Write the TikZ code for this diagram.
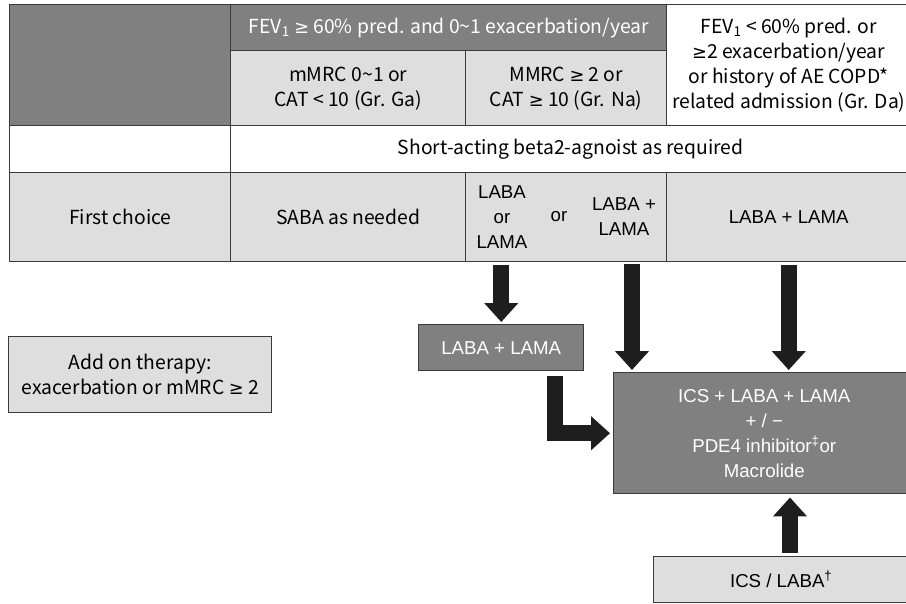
\documentclass[tikz,border=0pt]{standalone}
\usepackage{fontspec}
\setmainfont{Noto Sans CJK KR}
\newfontfamily\arialfont{Liberation Sans}
\newfontfamily\gefont[Scale=0.92]{DejaVu Sans}
\newcommand\gesym{{\gefont ≥}}
\usetikzlibrary{arrows.meta,calc,positioning}
\definecolor{copddark}{HTML}{808080}
\definecolor{copdlight}{HTML}{DEDEDE}
\definecolor{copdline}{HTML}{3A3A3A}
\definecolor{copdarrow}{HTML}{1E1E1E}

\begin{document}
\begin{tikzpicture}[x=0.75pt,y=-0.75pt,
  font=\fontsize{14.5}{18.75}\selectfont,
  cell/.style 2 args={draw=copdline,line width=1.1pt,anchor=north west,inner sep=0pt,align=center,
    minimum width=#1*0.75pt,minimum height=#2*0.75pt},
  dark/.style={fill=copddark,text=white},
  light/.style={fill=copdlight},
  arial/.style={font=\arialfont\fontsize{14}{18.75}\selectfont},
  blockarrow/.style={draw=copdarrow,line width=12pt,line join=miter,
    -{Triangle[width=24.75pt,length=14.25pt]}}]
\useasboundingbox[fill=white] (0,0) rectangle (906,603);
% header rows
\node[cell={221}{121},dark] (corner) at (9,4) {};
\node[cell={436}{46},dark] (fevhigh) at (230,4) {FEV\textsubscript{1} \gesym{} 60\% pred. and 0\textasciitilde1 exacerbation/year};
\node[cell={235}{75},light] (grga) at (230,50) {mMRC 0\textasciitilde1 or\\CAT < 10 (Gr. Ga)};
\node[cell={201}{75},light] (grna) at (465,50) {MMRC \gesym{} 2 or\\CAT \gesym{} 10 (Gr. Na)};
\node[cell={244}{121}] (grda) at (666,4) {FEV\textsubscript{1} < 60\% pred. or\\\gesym2 exacerbation/year\\or history of AE COPD*\\related admission (Gr. Da)};
% reliever row
\node[cell={221}{47}] (blank) at (9,125) {};
\node[cell={680}{47}] (reliever) at (230,125) {Short-acting beta2-agnoist as required};
% first choice row
\node[cell={221}{89},light] (first) at (9,172) {First choice};
\node[cell={235}{89},light] (sabacell) at (230,172) {SABA as needed};
\node[cell={201}{89},light] (mono) at (465,172) {};
\node[cell={244}{89},light,arial] (dual) at (666,172) {LABA + LAMA};
\node[arial,align=center] (monoA) at (502,217) {LABA\\or\\LAMA};
\node[arial] (monoOr) at (559,217) {or};
\node[arial,align=center] (monoB) at (624,217) {LABA +\\LAMA};
% treatment boxes
\node[cell={165}{46},dark,arial] (lama) at (418,324) {LABA + LAMA};
\node[cell={301}{121},dark,arial] (triple) at (613,372) {ICS + LABA + LAMA\\+ / −\\PDE4 inhibitor\textsuperscript{\textdaggerdbl}or\\Macrolide};
\node[cell={255}{46},light,arial] (ics) at (653,556) {ICS / LABA\textsuperscript{\textdagger}};
\node[cell={263}{76},light] (addon) at (8,336) {Add on therapy:\\exacerbation or mMRC \gesym{} 2};
% arrows
\coordinate (dualOut) at (632,261);
\coordinate (icsOut) at (790,556);
\draw[blockarrow,shorten <=2.25pt,shorten >=1.5pt] (mono.south -| lama.north) -- (lama.north);
\draw[blockarrow,shorten <=2.25pt,shorten >=1.5pt] (dualOut) -- (dualOut |- triple.north);
\draw[blockarrow,shorten <=2.25pt,shorten >=1.5pt] (dual.south) -- (dual.south |- triple.north);
\draw[blockarrow,shorten <=3.75pt,shorten >=2.25pt] ($(lama.south east)+(-29,0)$) |- (triple.west);
\draw[blockarrow,shorten <=2.25pt,shorten >=2.25pt] (icsOut) -- (icsOut |- triple.south);
\end{tikzpicture}
\end{document}
